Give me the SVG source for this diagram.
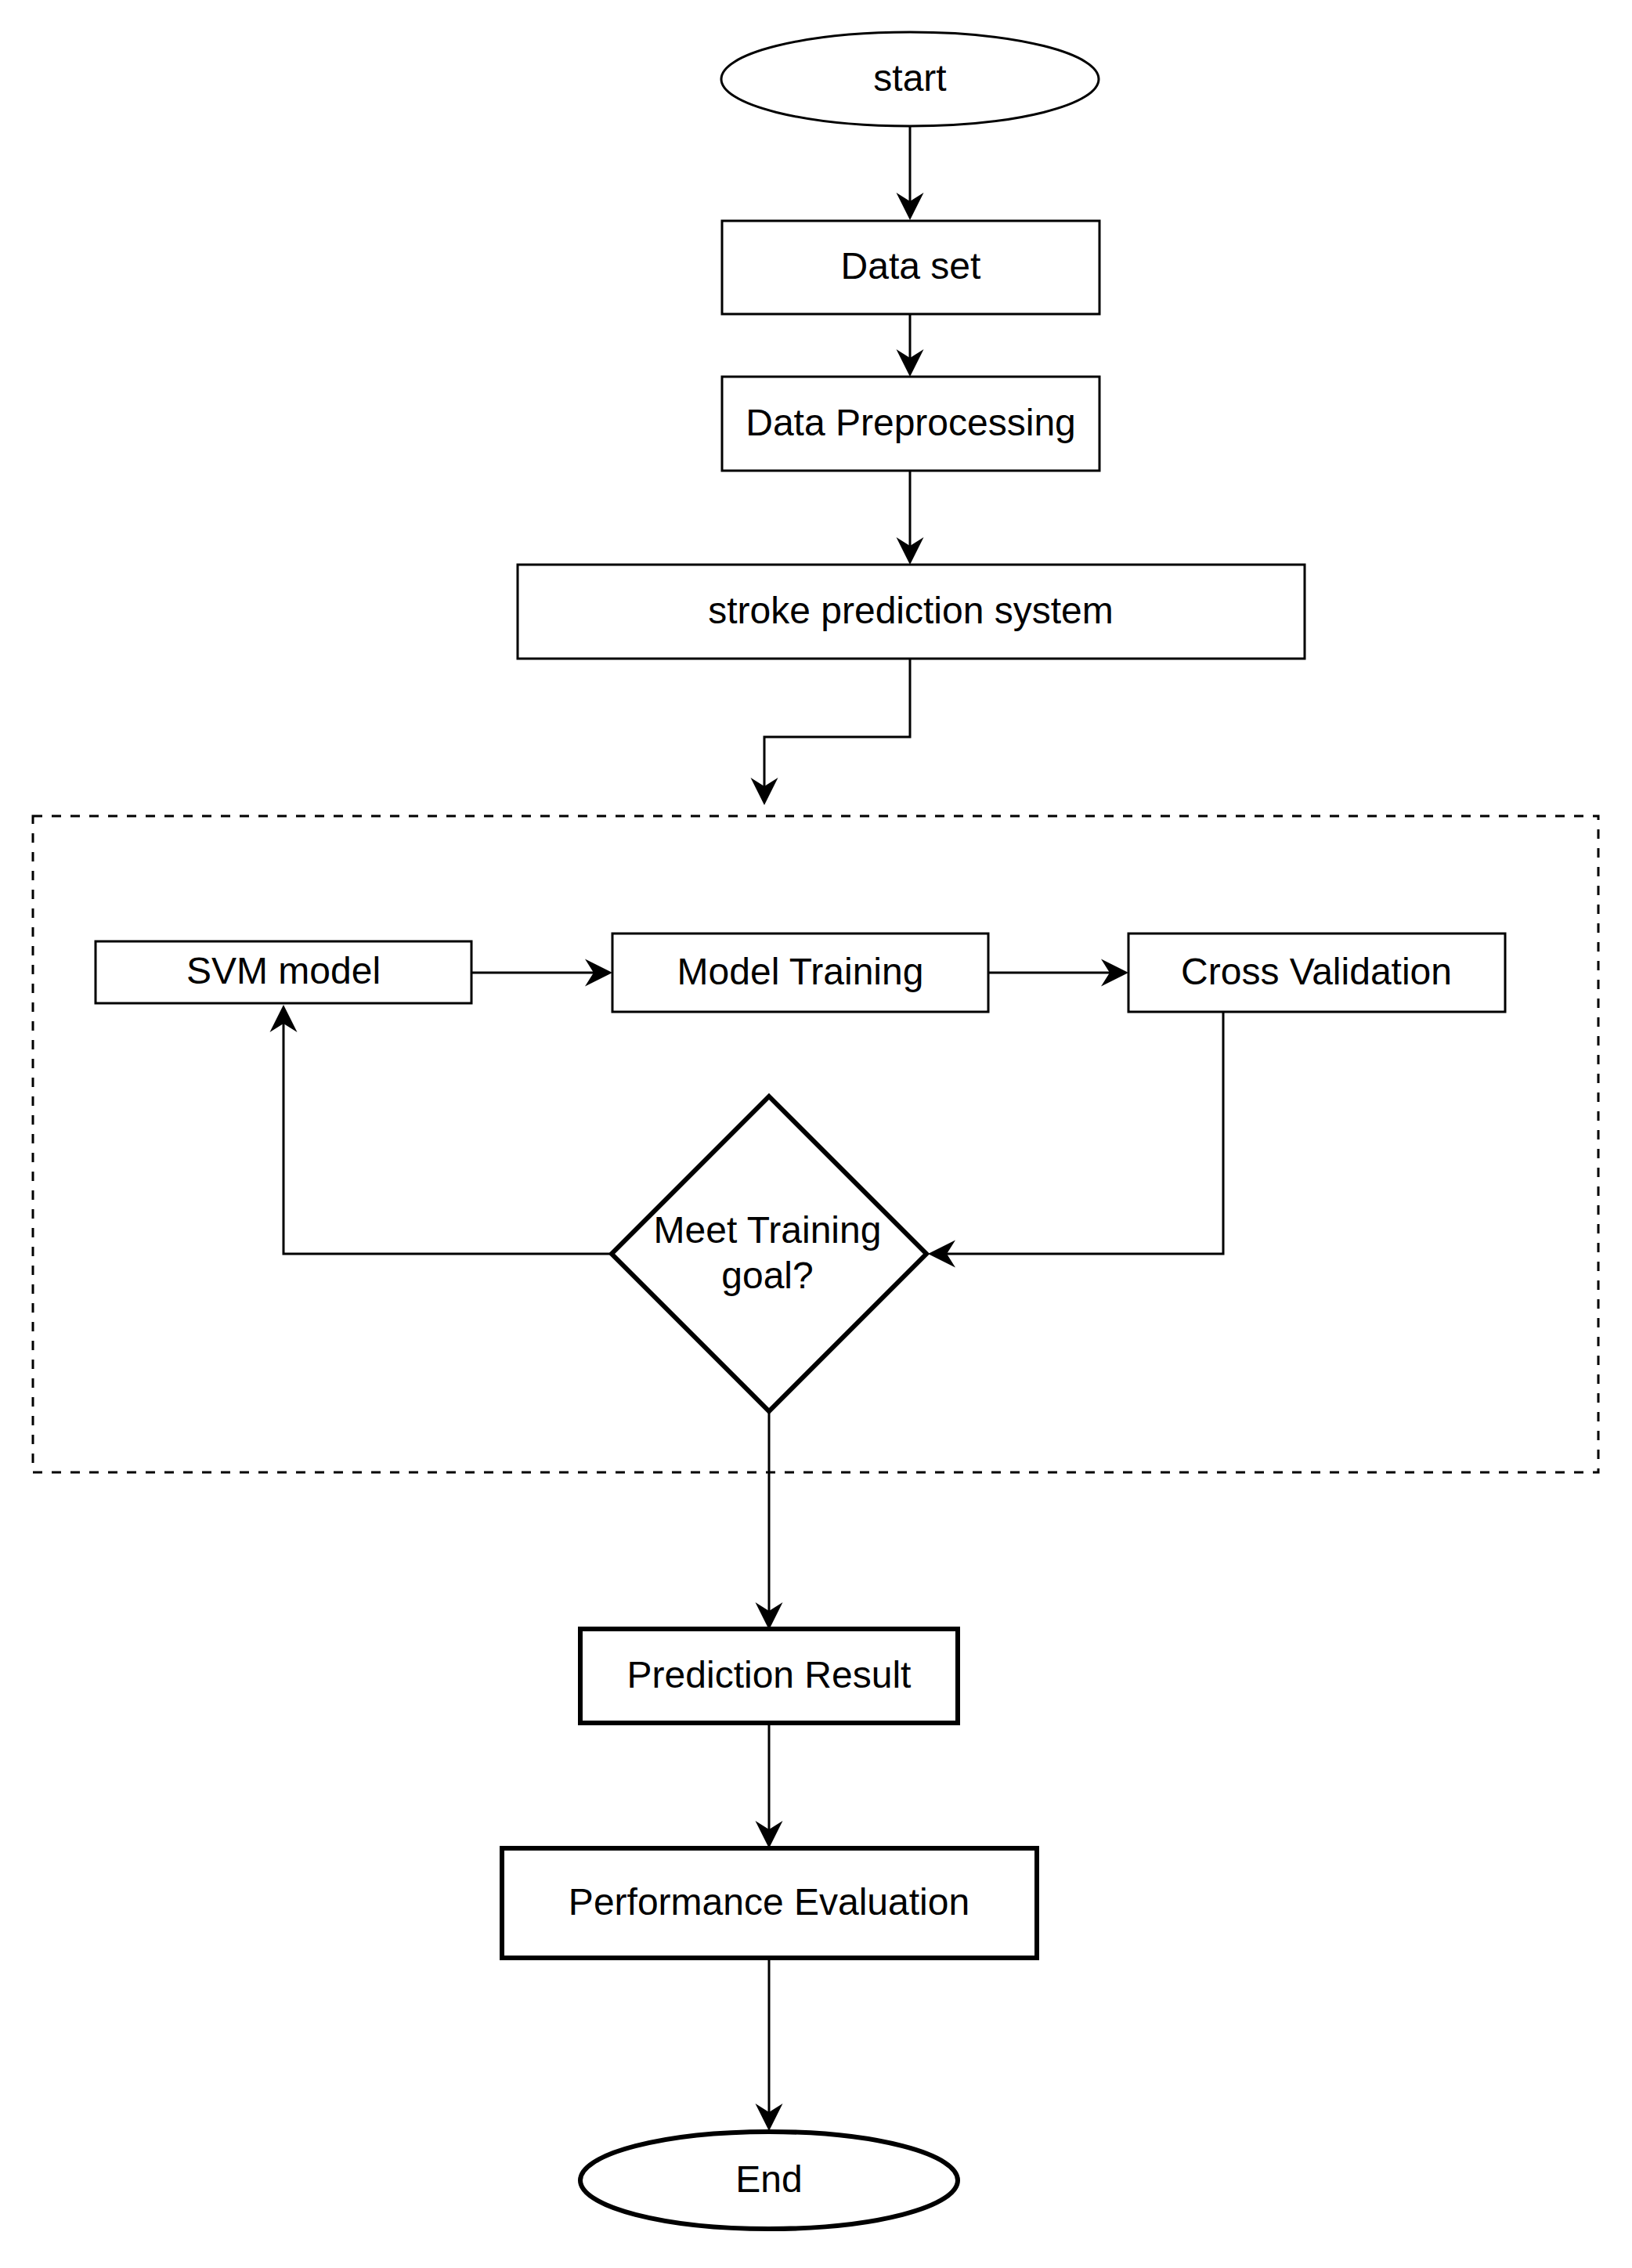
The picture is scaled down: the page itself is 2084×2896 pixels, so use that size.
<svg xmlns="http://www.w3.org/2000/svg" width="2084" height="2896" viewBox="0 0 2084 2896">
<style>
.n{fill:#fff;stroke:#000;stroke-width:3}
.b{fill:#fff;stroke:#000;stroke-width:6}
.c{fill:none;stroke:#000;stroke-width:3;marker-end:url(#arr)}
.t{font-family:"Liberation Sans",Arial,sans-serif;font-size:48px;fill:#000;text-anchor:middle}
</style>
<defs>
<marker id="arr" markerUnits="userSpaceOnUse" viewBox="-14 -20 44 40" markerWidth="44" markerHeight="40" refX="0" refY="0" orient="auto" overflow="visible">
<path d="M24,0 L-11,-17.5 L0,0 L-11,17.5 Z" fill="#000"/>
</marker>
</defs>
<rect width="2084" height="2896" fill="#fff"/>
<g id="group-training">
<rect x="42" y="1042" width="1999" height="838" fill="none" stroke="#000" stroke-width="3" stroke-dasharray="12 12"/>
</g>
<g id="connectors">
<path class="c" d="M1162,161 L1162,257"/>
<path class="c" d="M1162,401 L1162,457"/>
<path class="c" d="M1162,601 L1162,697"/>
<path class="c" d="M1162,842 L1162,941 L976,941 L976,1004"/>
<path class="c" d="M602,1242 L758,1242"/>
<path class="c" d="M1262,1242 L1417,1242"/>
<path class="c" d="M1562,1292 L1562,1601 L1209,1601"/>
<path class="c" d="M781,1601 L362,1601 L362,1307"/>
<path class="c" d="M982,1802 L982,2057"/>
<path class="c" d="M982,2200 L982,2336"/>
<path class="c" d="M982,2500 L982,2697"/>
</g>
<g id="start">
<ellipse class="n" cx="1162" cy="101" rx="241" ry="60"/>
<text class="t" x="1162" y="116">start</text>
</g>
<g id="dataset">
<rect class="n" x="922" y="282" width="482" height="119"/>
<text class="t" x="1163" y="356">Data set</text>
</g>
<g id="preprocessing">
<rect class="n" x="922" y="481" width="482" height="120"/>
<text class="t" x="1163" y="556">Data Preprocessing</text>
</g>
<g id="stroke-system">
<rect class="n" x="661" y="721" width="1005" height="120"/>
<text class="t" x="1163" y="796">stroke prediction system</text>
</g>
<g id="svm">
<rect class="n" x="122" y="1202" width="480" height="79"/>
<text class="t" x="362" y="1256">SVM model</text>
</g>
<g id="model-training">
<rect class="n" x="782" y="1192" width="480" height="100"/>
<text class="t" x="1022" y="1257">Model Training</text>
</g>
<g id="cross-validation">
<rect class="n" x="1441" y="1192" width="481" height="100"/>
<text class="t" x="1681" y="1257">Cross Validation</text>
</g>
<g id="decision">
<path class="b" d="M982,1400 L1183,1601 L982,1802 L781,1601 Z"/>
<text class="t" x="980" y="1587">Meet Training</text>
<text class="t" x="980" y="1645">goal?</text>
</g>
<g id="prediction-result">
<rect class="b" x="741" y="2080" width="482" height="120"/>
<text class="t" x="982" y="2155">Prediction Result</text>
</g>
<g id="performance">
<rect class="b" x="641" y="2360" width="683" height="140"/>
<text class="t" x="982" y="2445">Performance Evaluation</text>
</g>
<g id="end">
<ellipse class="b" cx="982" cy="2784" rx="241" ry="62"/>
<text class="t" x="982" y="2799">End</text>
</g>
</svg>
